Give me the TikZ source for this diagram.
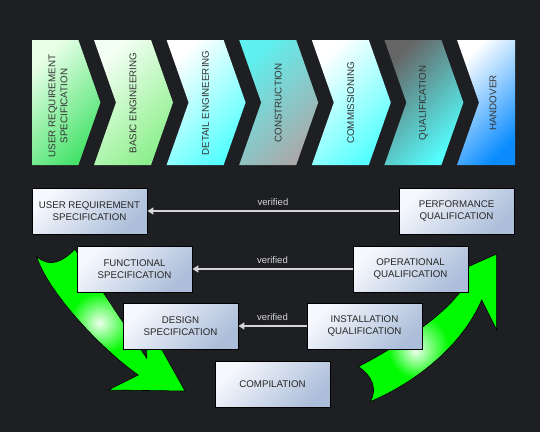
\documentclass[tikz,border=0pt]{standalone}
\usepackage{fontspec}
\setmainfont{Liberation Sans}
\usetikzlibrary{arrows.meta}

\definecolor{bgdark}{RGB}{30,31,34}
\definecolor{boxtop}{RGB}{246,248,253}
\definecolor{boxbottom}{RGB}{172,190,218}
\definecolor{vergray}{RGB}{214,214,214}
\definecolor{arrowgreen}{RGB}{0,250,0}
\definecolor{glowgreen}{RGB}{235,255,235}
\definecolor{greenA}{RGB}{232,255,232}
\definecolor{greenB}{RGB}{70,226,106}
\definecolor{greenC}{RGB}{244,255,244}
\definecolor{greenD}{RGB}{140,240,140}
\definecolor{aqua}{RGB}{84,255,255}
\definecolor{aquagray}{RGB}{95,240,240}
\definecolor{midgray}{RGB}{169,169,169}
\definecolor{darkgray}{RGB}{102,102,102}
\definecolor{skyblue}{RGB}{10,140,255}

\pgfdeclareradialshading{glowleft}{\pgfpoint{-4bp}{-1bp}}{color(0bp)=(glowgreen); color(11bp)=(arrowgreen); color(50bp)=(arrowgreen)}
\pgfdeclareradialshading{glowright}{\pgfpoint{-4.5bp}{-8bp}}{color(0bp)=(glowgreen); color(11bp)=(arrowgreen); color(50bp)=(arrowgreen)}

\tikzset{
  stagebox/.style={draw=black, line width=0.9pt, top color=boxtop, bottom color=boxbottom,
    shading angle=45, minimum width=115pt, minimum height=46pt, align=center, inner sep=2pt,
    font=\fontsize{9.7}{11.5}\selectfont, text=black!85},
  phasetext/.style={rotate=90, align=center, font=\fontsize{9.8}{12}\selectfont, text=black!80},
  verline/.style={draw=vergray, line width=1.4pt, -{Triangle[length=6pt,width=7pt]}},
  verlabel/.style={midway, above=1.5pt, text=vergray, font=\fontsize{9.5}{11}\selectfont}
}

\begin{document}
\begin{tikzpicture}[x=1pt,y=-1pt]
        \fill[bgdark] (0,0) rectangle (540,432);
        \useasboundingbox (0,0) rectangle (540,432);

        % phases
        \shade[top color=greenA, bottom color=greenB, shading angle=45] (32,40) -- (78.4,40) -- (100.4,102.5) -- (78.4,165) -- (32,165) -- cycle;
        \shade[top color=greenC, bottom color=greenD, shading angle=45] (94,40) -- (151,40) -- (173,102.5) -- (151,165) -- (94,165) -- (116,102.5) -- cycle;
        \shade[top color=white, bottom color=aqua, shading angle=45] (166.6,40) -- (223.6,40) -- (245.6,102.5) -- (223.6,165) -- (166.6,165) -- (188.6,102.5) -- cycle;
        \shade[top color=aquagray, bottom color=midgray, shading angle=45] (239.2,40) -- (296.2,40) -- (318.2,102.5) -- (296.2,165) -- (239.2,165) -- (261.2,102.5) -- cycle;
        \shade[top color=white, bottom color=aqua, shading angle=45] (311.8,40) -- (368.8,40) -- (390.8,102.5) -- (368.8,165) -- (311.8,165) -- (333.8,102.5) -- cycle;
        \shade[top color=darkgray, bottom color=aqua, shading angle=45] (384.4,40) -- (441.4,40) -- (463.4,102.5) -- (441.4,165) -- (384.4,165) -- (406.4,102.5) -- cycle;
        \shade[top color=white, bottom color=skyblue, shading angle=45] (457,40) -- (515,40) -- (515,165) -- (457,165) -- (479,102.5) -- cycle;

        \node[phasetext] (ph1) at (58,106) {USER REQUIREMENT\\SPECIFICATION};
        \node[phasetext] (ph2) at (133,103) {BASIC ENGINEERING};
        \node[phasetext] (ph3) at (205.6,103) {DETAIL ENGINEERING};
        \node[phasetext] (ph4) at (278.2,103) {CONSTRUCTION};
        \node[phasetext] (ph5) at (350.8,103) {COMMISSIONING};
        \node[phasetext] (ph6) at (423.4,103) {QUALIFICATION};
        \node[phasetext] (ph7) at (493,103) {HANDOVER};

        % green arrows (behind the boxes)
        \shade[shading=glowleft, draw=black, line width=0.6pt] (36.7,256.7) .. controls (50,268) and (62,262) .. (75,249.3)
          .. controls (100,288) and (125,325) .. (146.7,358.3) -- (147.4,323.8) -- (185,391) -- (108.3,390) -- (138.3,375)
          .. controls (100,348) and (48,292) .. (36.7,256.7) -- cycle;
        \shade[shading=glowright, draw=black, line width=0.6pt] (358.3,366.7) .. controls (372,375) and (378,390) .. (370,401.7)
          .. controls (410,385) and (460,350) .. (481.7,300) -- (496.7,330) -- (496.7,254) -- (427,285) -- (463,288)
          .. controls (445,315) and (400,345) .. (358.3,366.7) -- cycle;

        % documents
        \node[stagebox] (urs) at (89.5,211) {USER REQUIREMENT\\SPECIFICATION};
        \node[stagebox] (pq) at (456.5,211) {PERFORMANCE\\QUALIFICATION};
        \node[stagebox] (fs) at (134.5,269) {FUNCTIONAL\\SPECIFICATION};
        \node[stagebox] (oq) at (410.5,269) {OPERATIONAL\\QUALIFICATION};
        \node[stagebox] (ds) at (180.5,326) {DESIGN\\SPECIFICATION};
        \node[stagebox] (iq) at (364.5,326) {INSTALLATION\\QUALIFICATION};
        \node[stagebox] (comp) at (272.5,384.5) {COMPILATION};

        \draw[verline] (pq) -- (urs) node[verlabel] {verified};
        \draw[verline] (oq) -- (fs) node[verlabel] {verified};
        \draw[verline] (iq) -- (ds) node[verlabel] {verified};
\end{tikzpicture}
\end{document}
